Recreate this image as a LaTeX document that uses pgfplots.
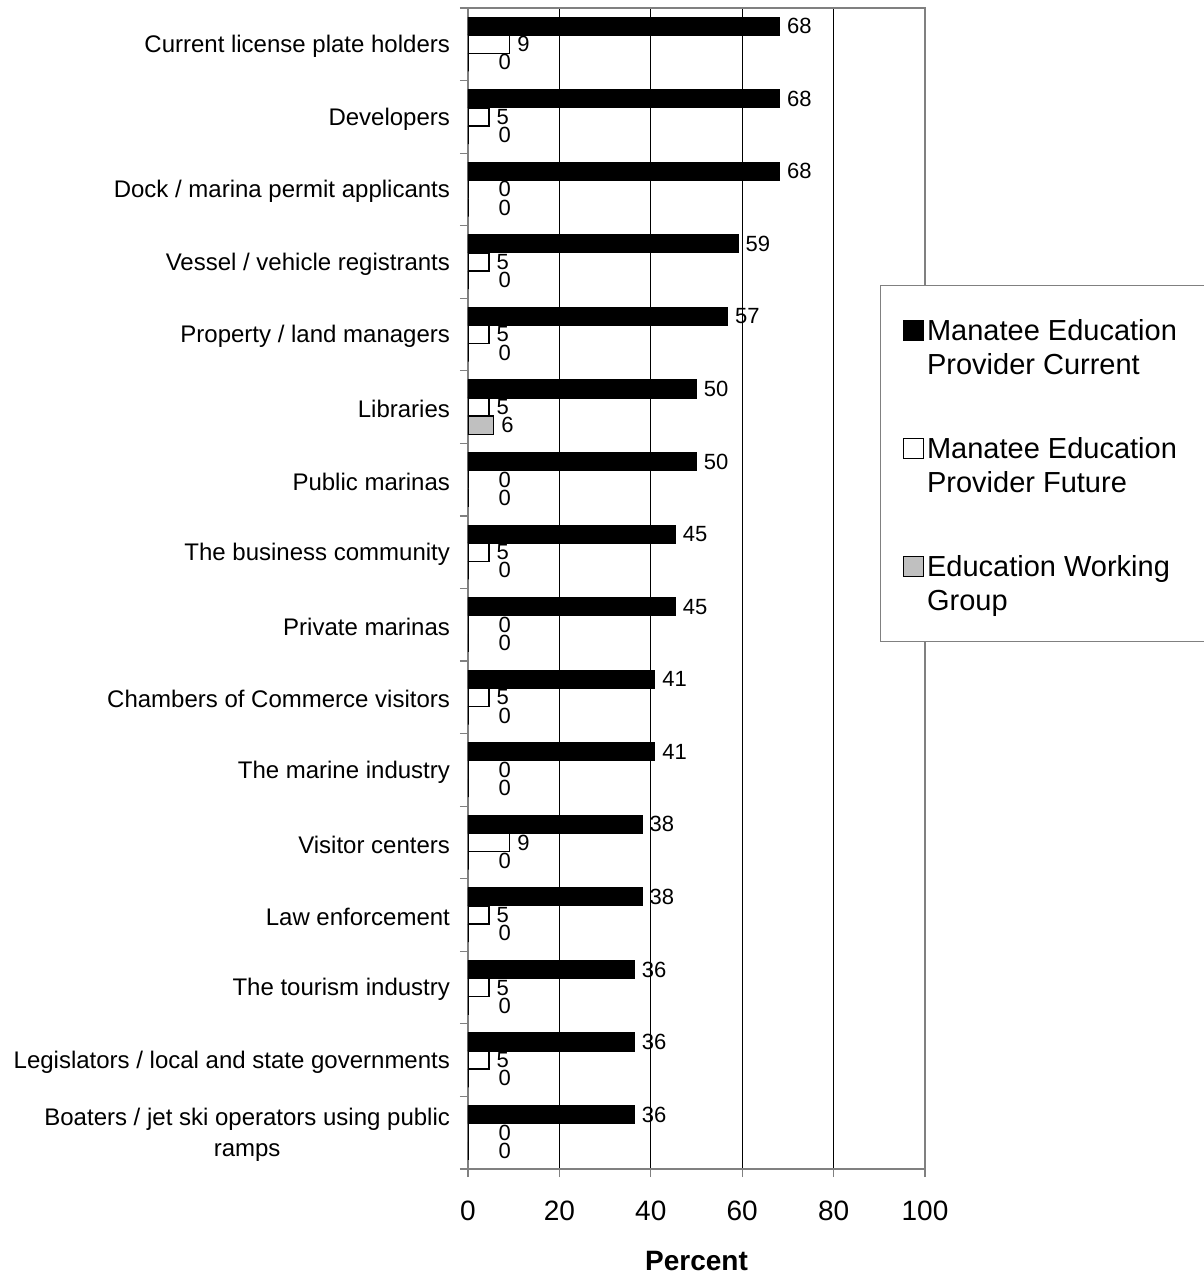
\documentclass[border=0pt]{standalone}
\usepackage{pgfplots}
\pgfplotsset{compat=1.18}
\usepackage{fontspec}
\setmainfont{Liberation Sans}
\definecolor{wgfill}{RGB}{192,192,192}
\definecolor{bordergray}{RGB}{128,128,128}
\pgfplotsset{sqlegend/.style={legend image code/.code={\draw[##1] (0pt,0pt) rectangle (10pt,10pt); \path (11.5pt,0pt);}}}
\begin{document}
\begin{tikzpicture}
\begin{axis}[
  at={(0,0)}, anchor=south west,
  scale only axis, width=228.5pt, height=580.5pt,
  xbar, bar width=0.25,
  xmin=0, xmax=100, ymin=-0.5, ymax=15.5,
  enlargelimits=false,
  xtick={0,20,...,100},
  ytick={0,...,15},
  yticklabels={{Boaters / jet ski operators using public\\ramps},
    {Legislators / local and state governments},
    {The tourism industry},
    {Law enforcement},
    {Visitor centers},
    {The marine industry},
    {Chambers of Commerce visitors},
    {Private marinas},
    {The business community},
    {Public marinas},
    {Libraries},
    {Property / land managers},
    {Vessel / vehicle registrants},
    {Dock / marina permit applicants},
    {Developers},
    {Current license plate holders}},
  minor ytick={-0.5,0.5,...,15.5},
  tick align=outside,
  xtick pos=bottom, ytick pos=left,
  major tick length=4pt, minor tick length=4pt,
  major y tick style={draw=none},
  minor y tick style={draw=bordergray, line width=0.6pt},
  major x tick style={draw=bordergray, line width=0.6pt},
  xmajorgrids,
  major x grid style={black, line width=0.5pt},
  axis line style={draw=bordergray, line width=0.9pt},
  /pgf/number format/assume math mode=true,
  xticklabel style={font=\fontsize{14}{17}\selectfont, yshift=-8.5pt},
  yticklabel style={font=\fontsize{12}{15.5}\selectfont, align=center, xshift=-1.5pt, yshift=-1pt},
  xlabel={Percent},
  xlabel style={font=\bfseries\fontsize{14}{17}\selectfont, at={(axis description cs:0.5,0)}, anchor=center, yshift=-46pt},
  point meta=x,
  visualization depends on={rawx \as \rawx},
  nodes near coords={\pgfmathprintnumber[fixed,precision=0,assume math mode=true]{\pgfplotspointmeta}},
  nodes near coords align={horizontal},
  every node near coord/.append style={font=\fontsize{11}{13}\selectfont, color=black, anchor=west, inner sep=0pt, xshift={3.5pt+(\rawx==0)*11.5pt}},
  legend style={at={(0.9015,0.7614)}, anchor=north west, draw=bordergray, line width=0.6pt, fill=white,
    font=\fontsize{14.5}{17}\selectfont, inner xsep=11pt, inner ysep=13pt, row sep=25pt,
    cells={anchor=base west}, nodes={inner sep=0pt, text height=14.4pt, text depth=19.6pt}},
]
\addplot+[fill=black, draw=black, line width=0.5pt, bar shift=0.25, sqlegend]
  coordinates {
  (36.4,0) (36.4,1) (36.4,2) (38.1,3) (38.1,4) (40.9,5) (40.9,6) (45.4,7)
  (45.4,8) (50,9) (50,10) (56.8,11) (59.1,12) (68.2,13) (68.2,14) (68.2,15)};
\addlegendentry{\begin{tabular}[t]{@{}l@{\hspace{3pt}}}Manatee Education\\Provider Current\end{tabular}}
\addplot+[fill=white, draw=black, line width=0.75pt, bar shift=0, sqlegend]
  coordinates {
  (0,0) (4.55,1) (4.55,2) (4.55,3) (9.1,4) (0,5) (4.55,6) (0,7)
  (4.55,8) (0,9) (4.55,10) (4.55,11) (4.55,12) (0,13) (4.55,14) (9.1,15)};
\addlegendentry{\begin{tabular}[t]{@{}l@{\hspace{3pt}}}Manatee Education\\Provider Future\end{tabular}}
\addplot+[fill=wgfill, draw=black, line width=0.75pt, bar shift=-0.25, sqlegend]
  coordinates {
  (0,0) (0,1) (0,2) (0,3) (0,4) (0,5) (0,6) (0,7)
  (0,8) (0,9) (5.6,10) (0,11) (0,12) (0,13) (0,14) (0,15)};
\addlegendentry{\begin{tabular}[t]{@{}l@{\hspace{3pt}}}Education Working\\Group\end{tabular}}
\end{axis}
\pgfresetboundingbox
\path (-234pt,-53pt) rectangle (368pt,584.5pt);
\end{tikzpicture}
\end{document}
